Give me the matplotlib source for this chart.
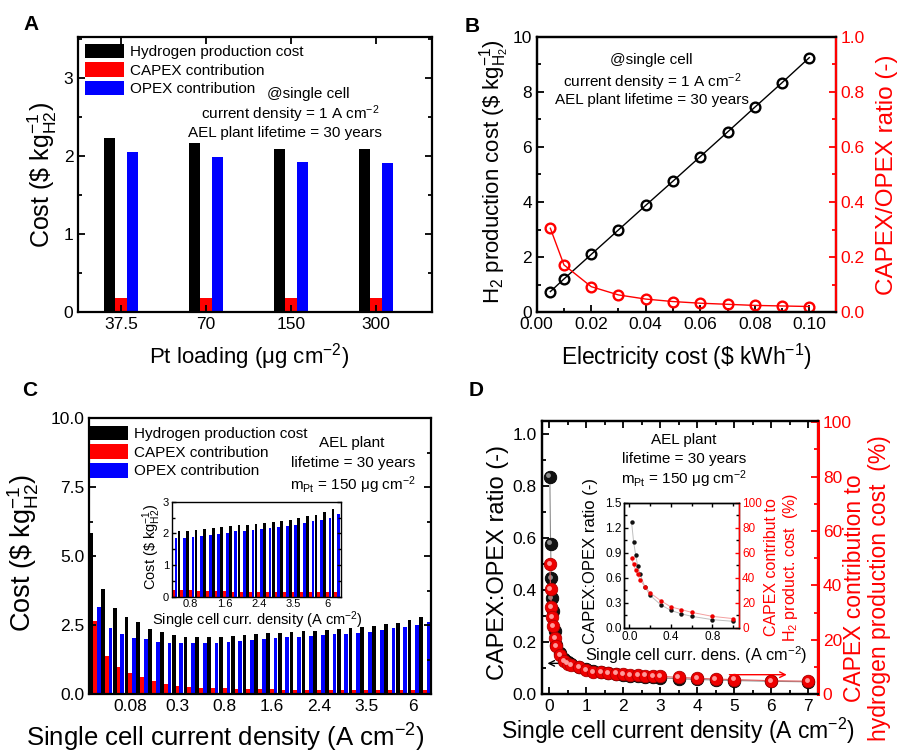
import numpy as np
import matplotlib
matplotlib.use("Agg")
import matplotlib.pyplot as plt
from matplotlib.ticker import MultipleLocator
from matplotlib.transforms import offset_copy

plt.rcParams['font.family'] = ['Liberation Sans', 'DejaVu Sans']
plt.rcParams['mathtext.fontset'] = 'custom'
plt.rcParams['mathtext.rm'] = 'Liberation Sans'
plt.rcParams['mathtext.it'] = 'Liberation Sans:italic'
plt.rcParams['mathtext.bf'] = 'Liberation Sans:bold'
plt.rcParams['mathtext.default'] = 'regular'
plt.rcParams['axes.linewidth'] = 1.6

# ---------------- data ----------------
# Panel A
pt_loading = ['37.5', '70', '150', '300']
a_total = [2.23, 2.16, 2.09, 2.09]
a_capex = [0.17, 0.17, 0.17, 0.17]
a_opex = [2.05, 1.99, 1.92, 1.91]

# Panel B
elec_cost = [0.005, 0.01, 0.02, 0.03, 0.04, 0.05, 0.06, 0.07, 0.08, 0.09, 0.10]
b_cost = [0.75, 1.21, 2.10, 2.99, 3.88, 4.76, 5.65, 6.54, 7.44, 8.33, 9.24]
b_ratio = [0.305, 0.172, 0.093, 0.063, 0.048, 0.039, 0.033, 0.029, 0.025, 0.023, 0.021]

# Panel C (and D)
density = [0.02, 0.04, 0.06, 0.08, 0.1, 0.15, 0.2, 0.3, 0.4, 0.5, 0.6, 0.8, 1.0,
           1.2, 1.4, 1.6, 1.8, 2.0, 2.2, 2.4, 2.6, 2.8, 3.0, 3.5, 4.0, 4.5, 5.0, 6.0, 7.0]
c_total = [5.82, 3.79, 3.13, 2.80, 2.61, 2.35, 2.23, 2.13, 2.07, 2.06, 2.07, 2.08, 2.11,
           2.14, 2.17, 2.20, 2.22, 2.25, 2.27, 2.29, 2.33, 2.35, 2.38, 2.41, 2.47, 2.54,
           2.58, 2.67, 2.78]
c_capex = [2.65, 1.39, 0.98, 0.76, 0.63, 0.46, 0.38, 0.30, 0.24, 0.22, 0.21, 0.20, 0.19,
           0.18, 0.18, 0.17, 0.16, 0.16, 0.16, 0.16, 0.16, 0.16, 0.16, 0.15, 0.15, 0.15,
           0.15, 0.14, 0.14]
c_opex = [3.17, 2.40, 2.16, 2.04, 1.98, 1.89, 1.85, 1.83, 1.83, 1.84, 1.85, 1.87, 1.91,
          1.95, 1.99, 2.02, 2.06, 2.08, 2.11, 2.13, 2.16, 2.19, 2.22, 2.26, 2.33, 2.38,
          2.42, 2.50, 2.60]
c_tick_labels = ['0.08', '0.3', '0.8', '1.6', '2.4', '3.5', '6']
c_tick_values = [0.08, 0.3, 0.8, 1.6, 2.4, 3.5, 6.0]

# Panel D main
d_ratio = [0.837, 0.578, 0.446, 0.369, 0.320, 0.245, 0.190, 0.158, 0.135, 0.125, 0.115,
           0.105, 0.097, 0.090, 0.085, 0.080, 0.077, 0.074, 0.071, 0.069, 0.067, 0.065,
           0.063, 0.060, 0.057, 0.055, 0.053, 0.050, 0.048]
d_capex_pct = [47.8, 38.6, 32.0, 28.3, 25.1, 20.6, 17.7, 14.5, 12.2, 11.3, 10.6, 10.0, 9.0,
               8.3, 8.1, 7.8, 7.6, 7.4, 7.2, 7.0, 6.9, 6.7, 6.6, 6.2, 5.9, 5.6, 5.4, 5.0, 4.8]

# Panel D inset
di_density = [0.02, 0.04, 0.06, 0.08, 0.1, 0.15, 0.2, 0.3, 0.4, 0.5, 0.6, 0.8, 1.0]
di_ratio = [1.27, 1.03, 0.87, 0.74, 0.65, 0.49, 0.39, 0.28, 0.21, 0.17, 0.14, 0.10, 0.08]
di_capex_pct = [55.5, 50.7, 46.0, 42.7, 38.7, 32.8, 28.0, 21.9, 16.8, 14.7, 12.5, 9.3, 7.5]

# ---------------- figure ----------------
W, H = 901, 754
fig = plt.figure(figsize=(W / 100, H / 100), dpi=100)


def px_axes(l, t, r, b):
    return fig.add_axes([l / W, 1 - b / H, (r - l) / W, (b - t) / H])


def ftext(x, y, s, **kw):
    kw.setdefault('ha', 'center')
    kw.setdefault('va', 'center')
    return fig.text(x / W, 1 - y / H, s, **kw)


TICK = 12.5
ANN = 11
RED = '#ff0000'
BLUE = '#0000ff'


def style(ax, size=TICK, right=True, top=True):
    ax.tick_params(which='both', direction='in', labelsize=size, top=top, right=right)
    ax.tick_params(which='major', length=5, width=1.3)
    ax.tick_params(which='minor', length=3, width=1.3)


def inset_style(ax, **kw):
    ax.tick_params(which='both', direction='in', labelsize=8, width=1, pad=2, **kw)
    ax.tick_params(which='major', length=3)
    ax.tick_params(which='minor', length=2)
    for s in ax.spines.values():
        s.set_linewidth(1.0)


# ---- Panel A ----
axA = px_axes(78.3, 36.7, 432, 311.7)
xa = np.arange(len(pt_loading))
wa = 0.135
axA.bar(xa - wa, a_total, wa, color='black', label='Hydrogen production cost')
axA.bar(xa, a_capex, wa, color=RED, label='CAPEX contribution')
axA.bar(xa + wa, a_opex, wa, color=BLUE, label='OPEX contribution')
axA.set_xlim(-0.5, 3.66)
axA.set_ylim(0, 3.53)
axA.set_xticks(xa)
axA.set_xticklabels(pt_loading)
axA.yaxis.set_major_locator(MultipleLocator(1))
axA.yaxis.set_minor_locator(MultipleLocator(0.5))
style(axA)
axA.legend(loc='upper left', bbox_to_anchor=(0.02, 0.975), frameon=False, fontsize=11,
           handlelength=2.5, handleheight=1.1, labelspacing=0.2, handletextpad=0.4,
           borderaxespad=0, borderpad=0)
ftext(308, 94, '@single cell', fontsize=ANN)
ftext(290, 114, r'current density = 1 A cm$^{-2}$', fontsize=ANN)
ftext(285, 133, 'AEL plant lifetime = 30 years', fontsize=ANN)
ftext(42, 175, r'Cost (\$ kg$_{\mathrm{H2}}^{-1}$)', fontsize=18, rotation=90)
ftext(249, 357, r'Pt loading (μg cm$^{-2}$)', fontsize=16)

# ---- Panel B ----
axB = px_axes(536.7, 36.7, 836, 312.3)
axB.plot(elec_cost, b_cost, '-', color='black', lw=1, marker='o', ms=7,
         mfc='none', mec='black', mew=1.7)
axB.set_xlim(0, 0.1098)
axB.set_ylim(0, 10)
axB.xaxis.set_major_locator(MultipleLocator(0.02))
axB.xaxis.set_minor_locator(MultipleLocator(0.01))
axB.yaxis.set_major_locator(MultipleLocator(2))
axB.yaxis.set_minor_locator(MultipleLocator(1))
axB.xaxis.set_major_formatter(plt.FormatStrFormatter('%.2f'))
style(axB, right=False, top=False)
axB2 = axB.twinx()
axB2.plot(elec_cost, b_ratio, '-', color=RED, lw=1, marker='o', ms=7,
          mfc='none', mec=RED, mew=1.7)
axB2.set_ylim(0, 1.0)
axB2.yaxis.set_major_locator(MultipleLocator(0.2))
axB2.yaxis.set_minor_locator(MultipleLocator(0.1))
axB2.yaxis.set_major_formatter(plt.FormatStrFormatter('%.1f'))
axB2.tick_params(which='both', direction='in', labelsize=TICK, colors=RED)
axB2.tick_params(which='major', length=5, width=1.3)
axB2.tick_params(which='minor', length=3, width=1.3)
axB2.spines['right'].set_color(RED)
ftext(651, 60, '@single cell', fontsize=ANN)
ftext(652, 82, r'current density = 1 A cm$^{-2}$', fontsize=ANN)
ftext(652, 100, 'AEL plant lifetime = 30 years', fontsize=ANN)
ftext(495, 172, r'H$_2$ production cost (\$ kg$_{\mathrm{H_2}}^{-1}$)', fontsize=16, rotation=90)
ftext(887, 175, 'CAPEX/OPEX ratio (-)', fontsize=17.5, rotation=90, color=RED)
ftext(686, 357, r'Electricity cost (\$ kWh$^{-1}$)', fontsize=16.4)

# ---- Panel C ----
axC = px_axes(89, 418, 431, 694)
xc = np.arange(len(density))
wc = 0.32
axC.bar(xc - wc, c_total, wc, color='black', label='Hydrogen production cost')
axC.bar(xc, c_capex, wc, color=RED, label='CAPEX contribution')
axC.bar(xc + wc, c_opex, wc, color=BLUE, label='OPEX contribution')
axC.set_xlim(-0.5, 28.5)
axC.set_ylim(0, 10)
c_tick_pos = [density.index(v) for v in c_tick_values]
axC.set_xticks(c_tick_pos)
axC.set_xticklabels(c_tick_labels)
axC.yaxis.set_major_locator(MultipleLocator(2.5))
axC.yaxis.set_minor_locator(MultipleLocator(1.25))
axC.yaxis.set_major_formatter(plt.FormatStrFormatter('%.1f'))
style(axC, top=False)
axC.tick_params(axis='x', which='major', length=0)
axC.legend(loc='upper left', bbox_to_anchor=(0.002, 0.972), frameon=False, fontsize=11,
           handlelength=2.5, handleheight=1.1, labelspacing=0.2, handletextpad=0.4,
           borderaxespad=0, borderpad=0)
ftext(352, 443, 'AEL plant', fontsize=ANN)
ftext(353, 463, 'lifetime = 30 years', fontsize=ANN)
ftext(353, 485, r'm$_{\mathrm{Pt}}$ = 150 μg cm$^{-2}$', fontsize=ANN)
ftext(23, 553, r'Cost (\$ kg$_{\mathrm{H2}}^{-1}$)', fontsize=19.5, rotation=90)
ftext(225, 738, r'Single cell current density (A cm$^{-2}$)', fontsize=18.5)

# C inset
axCi = px_axes(171.7, 501.7, 341, 596.7)
axCi.bar(xc - wc, c_total, wc, color='black')
axCi.bar(xc, c_capex, wc, color=RED)
axCi.bar(xc + wc, c_opex, wc, color=BLUE)
axCi.set_xlim(8.83, 28.6)
axCi.set_ylim(0, 3)
axCi.set_xticks(c_tick_pos[2:])
axCi.set_xticklabels(c_tick_labels[2:])
axCi.yaxis.set_major_locator(MultipleLocator(1))
axCi.yaxis.set_minor_locator(MultipleLocator(0.5))
inset_style(axCi, top=True, right=True)
axCi.tick_params(axis='x', which='major', length=0, pad=1.5)
ftext(152, 547, r'Cost (\$ kg$_{\mathrm{H2}}^{-1}$)', fontsize=10.5, rotation=90)
ftext(257, 620, r'Single cell curr. density (A cm$^{-2}$)', fontsize=10.5)

# ---- Panel D ----
axD = px_axes(541.7, 420.7, 818, 694.3)
axD.plot(density, d_ratio, '-', color='0.55', lw=0.8, zorder=2)
axD.plot(density, d_ratio, 'o', color='#111111', mec='black', ms=9, mew=0.6, zorder=3)
hl = offset_copy(axD.transData, fig=fig, x=-1.2, y=1.2, units='points')
axD.plot(density, d_ratio, 'o', color='#8a8a8a', mec='none', ms=3.5, transform=hl, zorder=4)
axD.set_xlim(-0.2, 7.27)
axD.set_ylim(0, 1.052)
axD.xaxis.set_major_locator(MultipleLocator(1))
axD.xaxis.set_minor_locator(MultipleLocator(0.5))
axD.yaxis.set_major_locator(MultipleLocator(0.2))
axD.yaxis.set_minor_locator(MultipleLocator(0.1))
axD.yaxis.set_major_formatter(plt.FormatStrFormatter('%.1f'))
style(axD, right=False)
axD.annotate('', xy=(-0.12, 0.119), xytext=(0.6, 0.119),
             arrowprops=dict(arrowstyle='->', color='black', lw=1.0))
axD2 = axD.twinx()
axD2.plot(density, d_capex_pct, '-', color='#e06060', lw=0.8, zorder=2)
axD2.plot(density, d_capex_pct, 'o', color='#ee0000', mec='#b00000', ms=9, mew=0.6, zorder=3)
hl2 = offset_copy(axD2.transData, fig=fig, x=-0.8, y=0.8, units='points')
axD2.plot(density, d_capex_pct, 'o', color='#ff9a9a', mec='none', ms=3.5, transform=hl2, zorder=4)
axD2.set_ylim(0, 100.5)
axD2.yaxis.set_major_locator(MultipleLocator(20))
axD2.yaxis.set_minor_locator(MultipleLocator(10))
axD2.tick_params(which='both', direction='in', labelsize=TICK, colors=RED)
axD2.tick_params(which='major', length=5, width=1.3)
axD2.tick_params(which='minor', length=3, width=1.3)
axD2.spines['right'].set_color(RED)
axD2.spines['right'].set_linewidth(2.2)
axD2.annotate('', xy=(6.5, 7.2), xytext=(4.8, 7.2),
              arrowprops=dict(arrowstyle='->', color=RED, lw=1.0))
ftext(684, 440, 'AEL plant', fontsize=ANN)
ftext(684, 459.5, 'lifetime = 30 years', fontsize=ANN)
ftext(684, 479, r'm$_{\mathrm{Pt}}$ = 150 μg cm$^{-2}$', fontsize=ANN)
ftext(498, 562, 'CAPEX:OPEX ratio (-)', fontsize=17, rotation=90)
ftext(867, 588, 'CAPEX contribution to\nhydrogen production cost  (%)', fontsize=16.5,
      rotation=90, color=RED, linespacing=1.15)
ftext(678, 731, r'Single cell current density (A cm$^{-2}$)', fontsize=16.5)

# D inset
axDi = px_axes(624.3, 502.7, 739.3, 628)
axDi.plot(di_density, di_ratio, '-', color='0.75', lw=0.7)
axDi.plot(di_density, di_ratio, 'o', color='#111111', ms=3.2, mew=0)
axDi.set_xlim(-0.05, 1.06)
axDi.set_ylim(0, 1.5)
axDi.xaxis.set_major_locator(MultipleLocator(0.4))
axDi.xaxis.set_minor_locator(MultipleLocator(0.2))
axDi.yaxis.set_major_locator(MultipleLocator(0.3))
axDi.yaxis.set_minor_locator(MultipleLocator(0.15))
axDi.yaxis.set_major_formatter(plt.FormatStrFormatter('%.1f'))
axDi.xaxis.set_major_formatter(plt.FormatStrFormatter('%.1f'))
inset_style(axDi, top=True)
axDi.tick_params(labelsize=8.5)
axDi2 = axDi.twinx()
axDi2.plot(di_density, di_capex_pct, '-', color='#f4a0a0', lw=0.7)
axDi2.plot(di_density, di_capex_pct, 'o', color='#ee0000', ms=3.2, mew=0)
axDi2.set_ylim(0, 100)
axDi2.yaxis.set_major_locator(MultipleLocator(20))
axDi2.yaxis.set_minor_locator(MultipleLocator(10))
inset_style(axDi2)
axDi2.tick_params(labelsize=8.5, colors=RED)
axDi2.spines['right'].set_color(RED)
ftext(591, 561, 'CAPEX:OPEX ratio (-)', fontsize=12, rotation=90)
ftext(782, 567, 'CAPEX contribut to\nH$_2$ product. cost  (%)', fontsize=11.5, rotation=90,
      color=RED, linespacing=1.2)
ftext(696, 655, r'Single cell curr. dens. (A cm$^{-2}$)', fontsize=11.7)

# panel letters
ftext(31, 25, 'A', fontsize=15, weight='bold')
ftext(472, 27, 'B', fontsize=15, weight='bold')
ftext(30, 391, 'C', fontsize=15, weight='bold')
ftext(476, 390, 'D', fontsize=15, weight='bold')

fig.savefig('out.png', dpi=100)
